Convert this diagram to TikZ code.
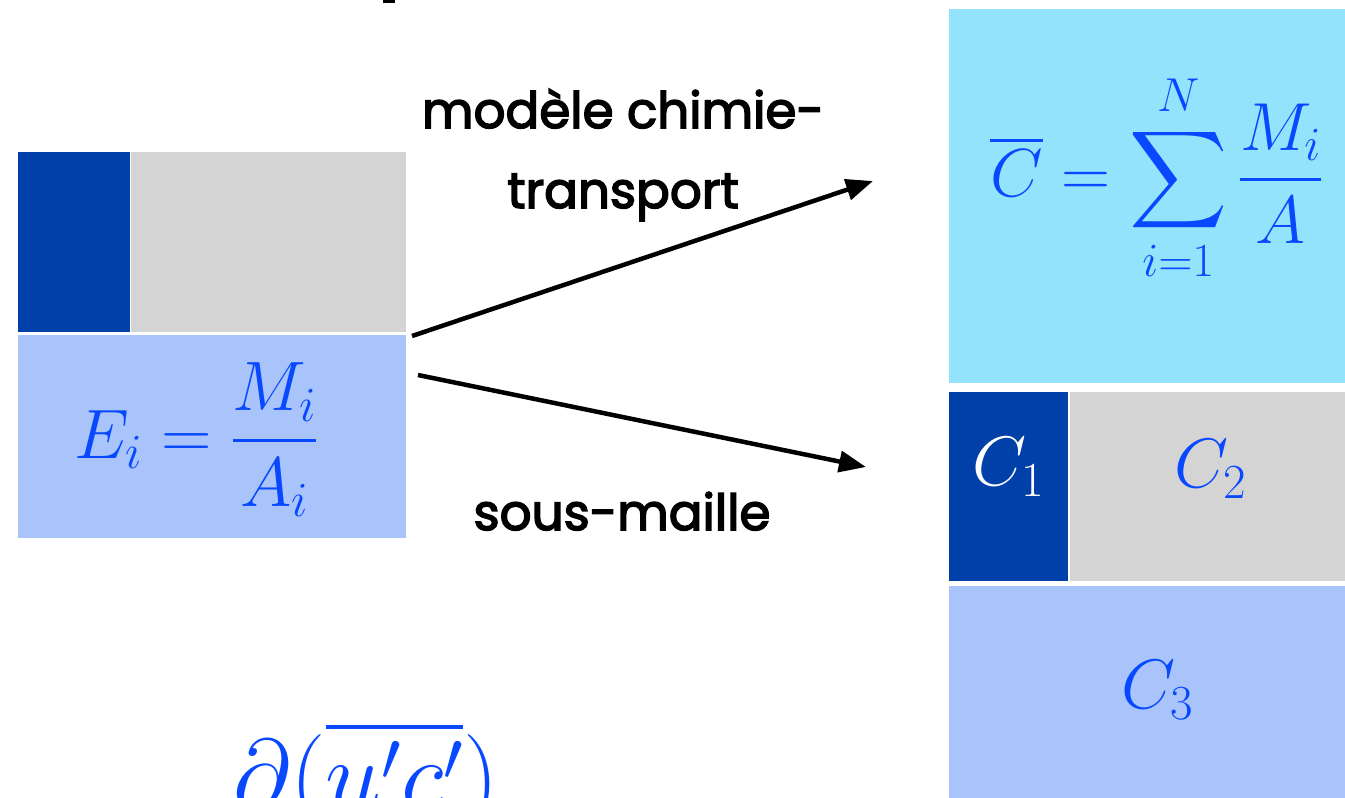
\RequirePackage{fix-cm}
\documentclass[tikz,border=0pt]{standalone}
\usepackage{amsmath}
\usepackage{fontspec}
\DeclareFontShape{OMX}{cmex}{m}{n}{<->cmex10}{}
\setmainfont{Poppins}
\newfontfamily\lblfont{Poppins}[FakeBold=3]
\usetikzlibrary{arrows.meta}
\definecolor{dkblue}{RGB}{0,64,168}
\definecolor{gry}{RGB}{212,212,212}
\definecolor{ltblue}{RGB}{168,196,250}
\definecolor{cyanbox}{RGB}{148,227,252}
\definecolor{mathblue}{RGB}{8,72,255}
\tikzset{
  cell/.style={draw=none,inner sep=0pt,outer sep=0pt,anchor=north west},
  mathlbl/.style={inner sep=0pt,text=mathblue,font=\fontsize{70}{84}\selectfont},
  biglbl/.style={inner sep=0pt,text=mathblue,font=\fontsize{70}{84}\selectfont},
  wordlbl/.style={inner sep=0pt,anchor=base,font=\lblfont\fontsize{50}{60}\selectfont},
  flow/.style={line width=4.5pt,-{Triangle[length=27pt,width=21pt]}}
}
\begin{document}
\begin{tikzpicture}[x=1pt,y=-1pt]
\useasboundingbox (0,0) rectangle (1345,798);
\clip (0,0) rectangle (1345,798);
\fill[white] (0,0) rectangle (1345,798);
% cropped title fragment
\fill[black] (383,0) rectangle (395,3);
% left block
\node[cell,fill=dkblue,minimum width=112pt,minimum height=180pt] (ldk) at (18,152) {};
\node[cell,fill=gry,minimum width=275pt,minimum height=180pt] (lgr) at (131,152) {};
\node[cell,fill=ltblue,minimum width=388pt,minimum height=203pt] (llt) at (18,335) {};
\node[mathlbl] (eqE) at (196,440) {$\displaystyle E_i = \frac{M_i}{A_i}$};
% right block
\node[cell,fill=cyanbox,minimum width=396pt,minimum height=374pt] (rcy) at (949,9) {};
\node[mathlbl,font=\fontsize{68}{80}\selectfont] (eqC) at (1156,178) {$\displaystyle \overline{C} = \sum_{i=1}^{N}\frac{M_i}{A}$};
\node[cell,fill=dkblue,minimum width=119pt,minimum height=189pt] (rdk) at (949,392) {};
\node[cell,fill=gry,minimum width=275pt,minimum height=189pt] (rgr) at (1070,392) {};
\node[cell,fill=ltblue,minimum width=396pt,minimum height=220pt] (rlt) at (949,586) {};
\node[biglbl,text=white] (c1) at (1008,467) {$C_1$};
\node[biglbl] (c2) at (1210,469) {$C_2$};
\node[biglbl] (c3) at (1157,690) {$C_3$};
% labels
\node[wordlbl] (t1a) at (623,128) {modèle chimie-};
\node[wordlbl] (t1b) at (623,208) {transport};
\node[wordlbl] (t2) at (622,530) {sous-maille};
% arrows
\coordinate (s1) at (412,336);
\coordinate (e1) at (873,181);
\coordinate (s2) at (418,375);
\coordinate (e2) at (866,467);
\draw[flow] (s1) -- (e1);
\draw[flow] (s2) -- (e2);
% bottom cropped formula
\node[inner sep=0pt,text=mathblue,anchor=base west,font=\fontsize{100}{120}\selectfont] (flux) at (233,809) {$\partial(\overline{u'c'})$};
\end{tikzpicture}
\end{document}
